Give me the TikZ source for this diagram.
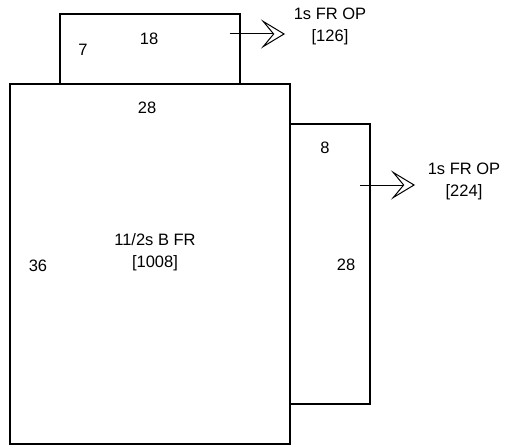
\documentclass[tikz,border=0pt]{standalone}
\usepackage{fontspec}
\setmainfont{Liberation Sans}
\usetikzlibrary{arrows.meta}
\tikzset{
  lbl/.style={font=\fontsize{16.5}{22}\selectfont, inner sep=0pt},
  twoline/.style={lbl, align=center},
  wall/.style={line width=1.3pt},
}
\begin{document}
\begin{tikzpicture}[x=1pt, y=-1pt, >={Stealth[open, length=24pt, width=29pt, inset=12pt, line width=1pt]}]
  \useasboundingbox (0,0) rectangle (510,446);
  % boxes
  \draw[wall] (60,14) rectangle (240,84);
  \draw[wall] (10,84) rectangle (290,444);
  \draw[wall] (290,124) rectangle (370,404);
  % dimensions
  \node[lbl] (w1) at (83,50) {7};
  \node[lbl] (l1) at (149,39) {18};
  \node[lbl] (l0) at (147,108) {28};
  \node[lbl] (w0) at (38,266) {36};
  \node[lbl] (w2) at (325,148) {8};
  \node[lbl] (l2) at (346,265) {28};
  \node[twoline] (main) at (155,252) {11/2s B FR\\{[1008]}};
  % outputs
  \node[twoline] (top) at (330,26) {1s FR OP\\{[126]}};
  \node[twoline] (side) at (464,181) {1s FR OP\\{[224]}};
  \coordinate (a1) at (230,34);
  \coordinate (t1) at (285,34);
  \coordinate (a2) at (360,185);
  \coordinate (t2) at (415,185);
  \draw[->, line width=1pt] (a1) -- (t1);
  \draw[->, line width=1pt] (a2) -- (t2);
\end{tikzpicture}
\end{document}
